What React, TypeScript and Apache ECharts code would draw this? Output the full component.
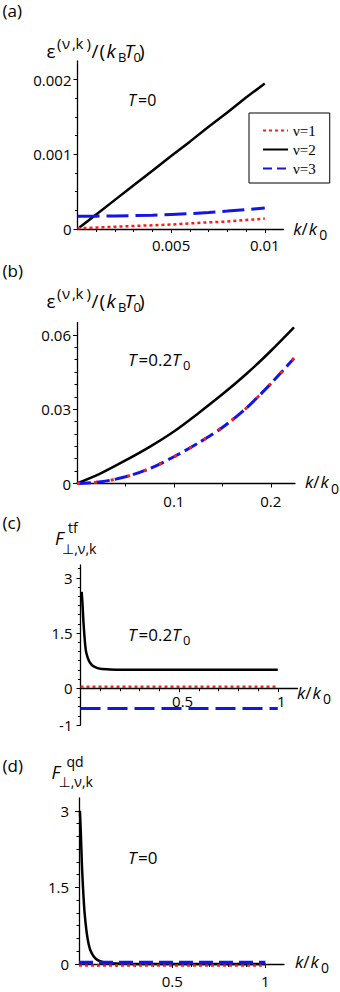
import React, { useEffect, useRef } from "react";
import * as echarts from "echarts";

// ---------- data ----------
// (a) T = 0
const kA = [0, 0.001, 0.002, 0.003, 0.004, 0.005, 0.006, 0.007, 0.008, 0.009, 0.01];
const aNu1 = [0.00001, 0.00002, 0.00003, 0.00004, 0.00005, 0.00006, 0.000075, 0.00009, 0.0001, 0.00012, 0.00014];
const aNu2 = [0, 0.000195, 0.00039, 0.000586, 0.00078, 0.000977, 0.00117, 0.00137, 0.00156, 0.00176, 0.00195];
const aNu3 = [0.00017, 0.000172, 0.000175, 0.00018, 0.000185, 0.000195, 0.000205, 0.000222, 0.00024, 0.00026, 0.00028];

// (b) T = 0.2 T0
const kB = [0, 0.025, 0.05, 0.075, 0.1, 0.125, 0.15, 0.175, 0.2, 0.224];
const bNu1 = [0, 0.0007, 0.0027, 0.006, 0.0108, 0.0163, 0.0226, 0.0305, 0.0403, 0.0506];
const bNu2 = [0, 0.0042, 0.0093, 0.0148, 0.021, 0.0283, 0.036, 0.0443, 0.0535, 0.063];
const bNu3 = [0, 0.0007, 0.0027, 0.006, 0.0108, 0.0163, 0.0226, 0.0305, 0.0403, 0.0506];

// (c) F tf, T = 0.2 T0
const kC2 = [0.006, 0.01, 0.015, 0.02, 0.025, 0.03, 0.04, 0.05, 0.06, 0.08, 0.1, 0.15, 0.2, 0.3, 0.5, 0.7, 1.0];
const cNu2 = [2.62, 2.3, 1.8, 1.42, 1.12, 0.95, 0.78, 0.68, 0.62, 0.56, 0.53, 0.51, 0.5, 0.5, 0.5, 0.5, 0.5];
const kC13 = [0, 1];
const cNu1 = [0.04, 0.04];
const cNu3 = [-0.55, -0.55];

// (d) F qd, T = 0
const kD2 = [0.005, 0.01, 0.015, 0.02, 0.025, 0.03, 0.04, 0.05, 0.06, 0.08, 0.1, 0.125, 0.15, 0.2, 0.25, 0.3, 0.5, 0.75, 1.0];
const dNu2 = [3.0, 2.55, 2.0, 1.6, 1.27, 1.0, 0.65, 0.42, 0.28, 0.14, 0.075, 0.04, 0.022, 0.008, 0.003, 0.001, 0, 0, 0];
const kD13 = [0, 1];
const dNu1 = [-0.03, -0.03];
const dNu3 = [0.03, 0.03];

// ---------- ticks / labels ----------
const aXLabels = [0.005, 0.01];
const aXMinor = [0.001, 0.002, 0.003, 0.004, 0.006, 0.007, 0.008, 0.009];
const aYLabels = [0, 0.001, 0.002];
const aYMinor = [0.00025, 0.0005, 0.00075, 0.00125, 0.0015, 0.00175];

const bXLabels = [0.1, 0.2];
const bXMinor = [0.05, 0.15];
const bYLabels = [0, 0.03, 0.06];
const bYMinor = [0.005, 0.01, 0.015, 0.02, 0.025, 0.035, 0.04, 0.045, 0.05, 0.055];

const cXLabels = [0.5, 1];
const cXMinor = [0.1, 0.2, 0.3, 0.4, 0.6, 0.7, 0.8, 0.9];
const cYLabels = [-1, 0, 1.5, 3];
const cYMinor = [-0.75, -0.5, -0.25, 0.25, 0.5, 0.75, 1, 1.25, 1.75, 2, 2.25, 2.5, 2.75, 3.25];

const dXLabels = [0.5, 1];
const dXMinor = [0.1, 0.2, 0.3, 0.4, 0.6, 0.7, 0.8, 0.9];
const dYLabels = [0, 1.5, 3];
const dYMinor = [0.25, 0.5, 0.75, 1, 1.25, 1.75, 2, 2.25, 2.5, 2.75];

const legendNames = ["ν=1", "ν=2", "ν=3"];

// ---------- styling ----------
const FONT = "'Open Sans', 'DejaVu Sans', sans-serif";
const RED = "#ff1a1a";
const BLUE = "#1414e6";
const BLACK = "#000000";

const zip = (xs: number[], ys: number[]) => xs.map((x, i) => [x, ys[i]]);
const fmt = (v: number) => String(+(+v).toPrecision(6));

type PanelCfg = {
  grid: { left: number; top: number; width: number; height: number };
  xMin: number; xMax: number; yMin: number; yMax: number;
  xLabels: number[]; xMinor: number[]; yLabels: number[]; yMinor: number[];
  xMargin: number; yMargin: number; xPad?: number[];
};

const panels: PanelCfg[] = [
  { grid: { left: 77.5, top: 61, width: 206, height: 168 }, xMin: 0, xMax: 0.011, yMin: 0, yMax: 0.00225,
    xLabels: aXLabels, xMinor: aXMinor, yLabels: aYLabels, yMinor: aYMinor, xMargin: 8, yMargin: 6 },
  { grid: { left: 77, top: 322.5, width: 218, height: 161 }, xMin: 0, xMax: 0.225, yMin: 0, yMax: 0.065,
    xLabels: bXLabels, xMinor: bXMinor, yLabels: bYLabels, yMinor: bYMinor, xMargin: 10, yMargin: 6 },
  { grid: { left: 80.5, top: 565, width: 217, height: 160 }, xMin: 0, xMax: 1.1, yMin: -1, yMax: 3.35,
    xLabels: cXLabels, xMinor: cXMinor, yLabels: cYLabels, yMinor: cYMinor, xMargin: 5, yMargin: 8, xPad: [0, 0, 0, 7] },
  { grid: { left: 79, top: 798, width: 205, height: 166 }, xMin: 0, xMax: 1.1, yMin: 0, yMax: 3.25,
    xLabels: dXLabels, xMinor: dXMinor, yLabels: dYLabels, yMinor: dYMinor, xMargin: 9, yMargin: 10 },
];

function buildAxes() {
  const xAxis: any[] = [];
  const yAxis: any[] = [];
  panels.forEach((p, i) => {
    const labelStyle = { color: BLACK, fontSize: 15, fontFamily: FONT };
    const xl: any = { show: true, customValues: p.xLabels, margin: p.xMargin, formatter: fmt, ...labelStyle };
    if (p.xPad) xl.padding = p.xPad;
    // place the x axis at y = 0 through an offset from the grid bottom (instead of onZero)
    const zeroOffset = p.yMin < 0 ? -p.grid.height * (0 - p.yMin) / (p.yMax - p.yMin) : 0;
    xAxis.push({
      type: "value", gridIndex: i, min: p.xMin, max: p.xMax, position: "bottom", offset: zeroOffset,
      axisLine: { show: true, onZero: false, lineStyle: { color: BLACK, width: 1.3 } },
      axisTick: { show: true, customValues: p.xLabels, length: 4, lineStyle: { color: BLACK, width: 1 } },
      axisLabel: xl,
      splitLine: { show: false },
    });
    xAxis.push({
      type: "value", gridIndex: i, min: p.xMin, max: p.xMax, position: "bottom", offset: zeroOffset,
      axisLine: { show: false, onZero: false },
      axisTick: { show: true, customValues: p.xMinor, length: 3, lineStyle: { color: BLACK, width: 1 } },
      axisLabel: { show: false },
      splitLine: { show: false },
    });
    yAxis.push({
      type: "value", gridIndex: i, min: p.yMin, max: p.yMax, position: "left",
      axisLine: { show: true, onZero: false, lineStyle: { color: BLACK, width: 1.3 } },
      axisTick: { show: true, customValues: p.yLabels, length: 4, lineStyle: { color: BLACK, width: 1 } },
      axisLabel: { show: true, customValues: p.yLabels, margin: p.yMargin, formatter: fmt, ...labelStyle },
      splitLine: { show: false },
    });
    yAxis.push({
      type: "value", gridIndex: i, min: p.yMin, max: p.yMax, position: "left",
      axisLine: { show: false, onZero: false },
      axisTick: { show: true, customValues: p.yMinor, length: 2.5, lineStyle: { color: BLACK, width: 1 } },
      axisLabel: { show: false },
      splitLine: { show: false },
    });
  });
  return { xAxis, yAxis };
}

function line(name: string, panel: number, data: number[][], color: string, width: number, type: any, z = 2, smooth: any = false) {
  return {
    name, type: "line", xAxisIndex: panel * 2, yAxisIndex: panel * 2, data,
    symbol: "none", showSymbol: false, smooth, clip: false, z,
    lineStyle: { color, width, type, cap: "butt" },
    itemStyle: { color },
    emphasis: { disabled: true },
  };
}

// text helper: x = left, base = alphabetic baseline
function txt(text: string, x: number, base: number, fs: number, italic = false, family = FONT) {
  return {
    type: "text", x, y: base - 0.385 * fs, silent: true,
    style: {
      text, fill: BLACK, fontSize: fs, fontFamily: family, fontStyle: italic ? "italic" : "normal",
      lineHeight: Math.round(fs * 0.9),
      align: "left", verticalAlign: "middle", textAlign: "left", textVerticalAlign: "middle",
    },
  };
}

function epsTitle(dy: number) {
  const b = 58 + dy;
  const s = 49 + dy;
  return [
    txt("ε", 46.5, b, 19),
    txt("(", 57, s, 15), txt("ν", 62, s, 15), txt(",", 72, s, 15), txt("k", 75.5, s, 15), txt(")", 86.5, s, 15),
    txt("/", 91.5, b, 19),
    txt("(", 99.5, b, 19),
    txt("k", 106.5, b, 19, true),
    txt("B", 118, b + 4, 13),
    txt("T", 124.5, b, 19, true),
    txt("0", 133.5, b + 4, 13),
    txt(")", 139, b, 19),
  ];
}

function kTitle(x: number, base: number) {
  return [
    txt("k", x, base, 17, true),
    txt("/", x + 8.3, base, 17),
    txt("k", x + 15.5, base, 17, true),
    txt("0", x + 26, base + 5, 14),
  ];
}

function tempT0(x: number, base: number, fs: number) {
  return [txt("T", x, base, fs, true), txt("=0", x + 10, base, fs)];
}

function tempT02(x: number, base: number, fs: number) {
  return [
    txt("T", x, base, fs, true),
    txt("=0.2", x + 10.5, base, fs),
    txt("T", x + 44, base, fs, true),
    txt("0", x + 55, base + 4, 13),
  ];
}

function buildGraphics() {
  const g: any[] = [];
  // panel labels
  g.push(txt("(a)", 2.5, 17, 17));
  g.push(txt("(b)", 2.5, 277.5, 17));
  g.push(txt("(c)", 2.5, 529, 17));
  g.push(txt("(d)", 2.5, 772.5, 17));
  // y titles
  g.push(...epsTitle(0));
  g.push(...epsTitle(250));
  g.push(txt("F", 55, 545, 18, true), txt("tf", 68, 533, 14), txt("⊥,ν,k", 62, 554, 14));
  g.push(txt("F", 51.5, 778.5, 18, true), txt("qd", 66.5, 767, 14), txt("⊥,ν,k", 58.5, 787, 14));
  // x titles
  g.push(...kTitle(293.3, 235));
  g.push(...kTitle(305, 488.5));
  g.push(...kTitle(297, 699));
  g.push(...kTitle(295, 968));
  // temperature annotations
  g.push(...tempT0(128, 106, 16));
  g.push(...tempT02(128, 366, 17));
  g.push(...tempT02(128, 641, 17));
  g.push(...tempT0(128, 864, 17));
  return g;
}

export default function App() {
  const ref = useRef<HTMLDivElement>(null);
  useEffect(() => {
    if (!ref.current) return;
    const chart = echarts.init(ref.current, null, { renderer: "svg" });
    const { xAxis, yAxis } = buildAxes();
    const series = [
      // (a)
      line("ν=1", 0, zip(kA, aNu1), RED, 2.5, [3, 3], 3),
      line("ν=2", 0, zip(kA, aNu2), BLACK, 2.5, "solid", 2),
      line("ν=3", 0, zip(kA, aNu3), BLUE, 3, [22, 7], 4),
      // (b)
      line("b2", 1, zip(kB, bNu2), BLACK, 2.5, "solid", 2, 0.3),
      line("b3", 1, zip(kB, bNu3), BLUE, 3, [14, 5], 3, 0.3),
      line("b1", 1, zip(kB, bNu1), RED, 3, [3, 14], 4, 0.3),
      // (c)
      line("c2", 2, zip(kC2, cNu2), BLACK, 2.5, "solid", 2, 0.2),
      line("c1", 2, zip(kC13, cNu1), RED, 2.5, [3, 3], 3),
      line("c3", 2, zip(kC13, cNu3), BLUE, 3, [20, 7], 3),
      // (d)
      line("d2", 3, zip(kD2, dNu2), BLACK, 2.5, "solid", 2, 0.2),
      line("d1", 3, zip(kD13, dNu1), RED, 2.5, [3, 3], 3),
      line("d3", 3, zip(kD13, dNu3), BLUE, 3.5, [14, 6], 4),
    ];
    chart.setOption({
      animation: false,
      backgroundColor: "#ffffff",
      grid: panels.map((p) => ({ ...p.grid, containLabel: false, outerBoundsMode: "none" })),
      xAxis, yAxis, series,
      legend: {
        show: true,
        data: [
          { name: legendNames[0], itemStyle: { opacity: 0 } },
          { name: legendNames[1], itemStyle: { opacity: 0 } },
          { name: legendNames[2], itemStyle: { opacity: 0 }, lineStyle: { type: [9, 5] } },
        ],
        orient: "vertical", left: 249, top: 113,
        backgroundColor: "#ffffff", borderColor: BLACK, borderWidth: 1, borderRadius: 0,
        padding: [10, 14, 7, 13], itemGap: 4, itemWidth: 25, itemHeight: 14,
        itemStyle: { opacity: 0 },
        selectedMode: false,
        textStyle: { color: BLACK, fontSize: 15, fontFamily: "'Liberation Serif', serif", lineHeight: 15 },
      },
      graphic: buildGraphics(),
    });
    return () => chart.dispose();
  }, []);
  return <div ref={ref} style={{ position: "absolute", left: 0, top: 0, width: 340, height: 992 }} />;
}
